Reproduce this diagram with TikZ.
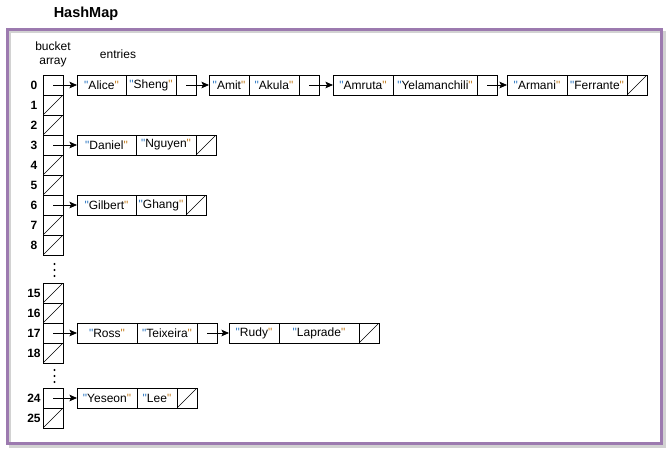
\documentclass[tikz,border=0pt]{standalone}
\usepackage{fontspec}
\setmainfont{Liberation Sans}
\newfontfamily\qfont{Liberation Sans}
\usetikzlibrary{positioning,arrows.meta}

\definecolor{framepurple}{HTML}{9C7AAF}
\definecolor{framegray}{HTML}{D2D2D2}
\definecolor{qopen}{HTML}{2E78C2}
\definecolor{qclose}{HTML}{C47F22}
\newcommand{\qt}[1]{\textcolor{qopen}{\qfont"}#1\textcolor{qclose}{\qfont"}}

\tikzset{
	cell/.style={draw, line width=0.8pt, minimum height=20pt, inner sep=0pt, outer sep=0pt,
		font=\fontsize{12}{14}\selectfont},
	slot/.style={cell, minimum width=20pt},
	nullslot/.style={slot, path picture={\draw[line width=0.5pt]
		(path picture bounding box.south west) -- (path picture bounding box.north east);}},
	link/.style={-{Stealth[length=7.5pt,width=6.5pt,inset=1.5pt]}, line width=0.8pt},
	idx/.style={font=\fontsize{12}{14}\selectfont\bfseries},
}

\begin{document}
\begin{tikzpicture}[x=1pt, y=-1pt]
		\useasboundingbox (0,0) rectangle (672,455);

		% frame
		\draw [framegray, line width=3pt] (10.5,32.5) rectangle (664.5,446.5);
		\fill [white] (9,31) rectangle (660,442);
		\draw [framepurple, line width=3pt] (7.5,29.5) rectangle (661.5,443.5);
		\draw [framegray, line width=2pt] (10,441.5) -- (10,32) -- (659.5,32);
		\node [font=\fontsize{14.5}{16}\selectfont\bfseries, anchor=base] (title) at (86,17) {HashMap};

		% headers
		\node [align=center, font=\fontsize{12}{14}\selectfont] (hbucket) at (53,54) {bucket\\array};
		\node [font=\fontsize{12}{14}\selectfont] (hentries) at (118,54) {entries};

		% bucket array
		\foreach \i/\s in {0/slot,1/nullslot,2/nullslot,3/slot,4/nullslot,5/nullslot,6/slot,7/nullslot,8/nullslot} {
			\node [\s] (b\i) at (53,85+20*\i) {};
			\node [idx] (l\i) at (34,85+20*\i) {\i};
		}
		\foreach \i/\s in {15/nullslot,16/nullslot,17/slot,18/nullslot} {
			\node [\s] (b\i) at (53,293+20*\i-300) {};
			\node [idx] (l\i) at (34,293+20*\i-300) {\i};
		}
		\foreach \i/\s in {24/slot,25/nullslot} {
			\node [\s] (b\i) at (53,398+20*\i-480) {};
			\node [idx] (l\i) at (34,398+20*\i-480) {\i};
		}
		\foreach \y in {264,270,276,370,376,382}
			\fill (54.5,\y) circle (1.1pt);

		% bucket 0
		\node [cell, minimum width=49pt, anchor=west] (a0k) at (77,85) {\qt{Alice}};
		\node [cell, minimum width=50pt, right=0pt of a0k] (a0v) {\qt{Sheng}};
		\node [slot, right=0pt of a0v] (a0n) {};
		\node [cell, minimum width=40pt, anchor=west] (a1k) at (209,85) {\qt{Amit}};
		\node [cell, minimum width=50pt, right=0pt of a1k] (a1v) {\qt{Akula}};
		\node [slot, right=0pt of a1v] (a1n) {};
		\node [cell, minimum width=60pt, anchor=west] (a2k) at (333,85) {\qt{Amruta}};
		\node [cell, minimum width=84pt, right=0pt of a2k] (a2v) {\qt{Yelamanchili}};
		\node [slot, right=0pt of a2v] (a2n) {};
		\node [cell, minimum width=60pt, anchor=west] (a3k) at (507,85) {\qt{Armani}};
		\node [cell, minimum width=60pt, right=0pt of a3k] (a3v) {\qt{Ferrante}};
		\node [nullslot, right=0pt of a3v] (a3n) {};
		\draw [link] (b0.center) -- (a0k.west);
		\draw [link] (a0n.center) -- (a1k.west);
		\draw [link] (a1n.center) -- (a2k.west);
		\draw [link] (a2n.center) -- (a3k.west);

		% bucket 3
		\node [cell, minimum width=59pt, anchor=west] (c0k) at (77,145) {\qt{Daniel}};
		\node [cell, minimum width=60pt, right=0pt of c0k] (c0v) {\qt{Nguyen}};
		\node [nullslot, right=0pt of c0v] (c0n) {};
		\draw [link] (b3.center) -- (c0k.west);

		% bucket 6
		\node [cell, minimum width=59pt, anchor=west] (d0k) at (77,205) {\qt{Gilbert}};
		\node [cell, minimum width=50pt, right=0pt of d0k] (d0v) {\qt{Ghang}};
		\node [nullslot, right=0pt of d0v] (d0n) {};
		\draw [link] (b6.center) -- (d0k.west);

		% bucket 17
		\node [cell, minimum width=60pt, anchor=west] (r0k) at (77,333) {\qt{Ross}};
		\node [cell, minimum width=60pt, right=0pt of r0k] (r0v) {\qt{Teixeira}};
		\node [slot, right=0pt of r0v] (r0n) {};
		\node [cell, minimum width=50pt, anchor=west] (r1k) at (229,333) {\qt{Rudy}};
		\node [cell, minimum width=80pt, right=0pt of r1k] (r1v) {\qt{Laprade}};
		\node [nullslot, right=0pt of r1v] (r1n) {};
		\draw [link] (b17.center) -- (r0k.west);
		\draw [link] (r0n.center) -- (r1k.west);

		% bucket 24
		\node [cell, minimum width=60pt, anchor=west] (y0k) at (77,398) {\qt{Yeseon}};
		\node [cell, minimum width=40pt, right=0pt of y0k] (y0v) {\qt{Lee}};
		\node [nullslot, right=0pt of y0v] (y0n) {};
		\draw [link] (b24.center) -- (y0k.west);

	\end{tikzpicture}
\end{document}
